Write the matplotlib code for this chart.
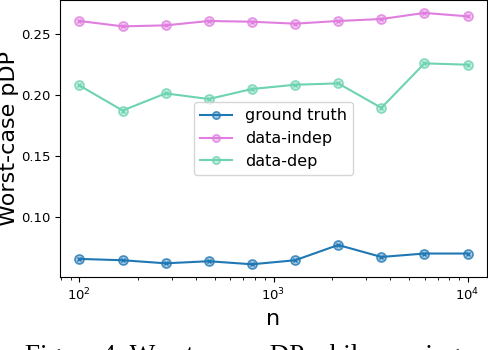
import matplotlib.pyplot as plt
import numpy as np

n = [100, 167, 278, 464, 774, 1292, 2154, 3594, 5995, 10000]
ground_truth = [0.0656, 0.0645, 0.0620, 0.0637, 0.0612, 0.0645, 0.0770, 0.0672, 0.0700, 0.0700]
data_indep = [0.2604, 0.2560, 0.2568, 0.2604, 0.2598, 0.2582, 0.2604, 0.2620, 0.2670, 0.2642]
data_dep = [0.2076, 0.1871, 0.2011, 0.1965, 0.2047, 0.2082, 0.2093, 0.1893, 0.2257, 0.2246]

series = [("ground truth", ground_truth, "#1f77b4"),
          ("data-indep", data_indep, "#e07ee0"),
          ("data-dep", data_dep, "#6dd3b0")]

fig = plt.figure(figsize=(4.88, 3.5), dpi=100)
ax = fig.add_axes([0.123, 0.209, 0.875, 0.79])

for label, vals, col in series:
    ax.plot(n, vals, color=col, lw=1.5, marker="o", ms=6.5,
            mfc=col + "66", mec=col + "cc", mew=1.2, label=label)
    ax.plot(n, vals, color=col, lw=0, marker="x", ms=3, mew=1.0)

ax.set_xscale("log")
ax.set_yticks([0.10, 0.15, 0.20, 0.25])
ax.tick_params(labelsize=9.5)
ax.set_xlabel("n", fontsize=16)
ax.set_ylabel("Worst-case pDP", fontsize=16)
ax.yaxis.set_label_coords(-0.097, 0.5)
ax.legend(loc="center", fontsize=11.5, markerscale=0.8)

fig.text(25 / 488, 1 - 344 / 350, "Figure 4: Worst-case pDP while varying",
         family="Liberation Serif", fontsize=19.5, va="top", ha="left")

fig.savefig("out.png", dpi=100)
